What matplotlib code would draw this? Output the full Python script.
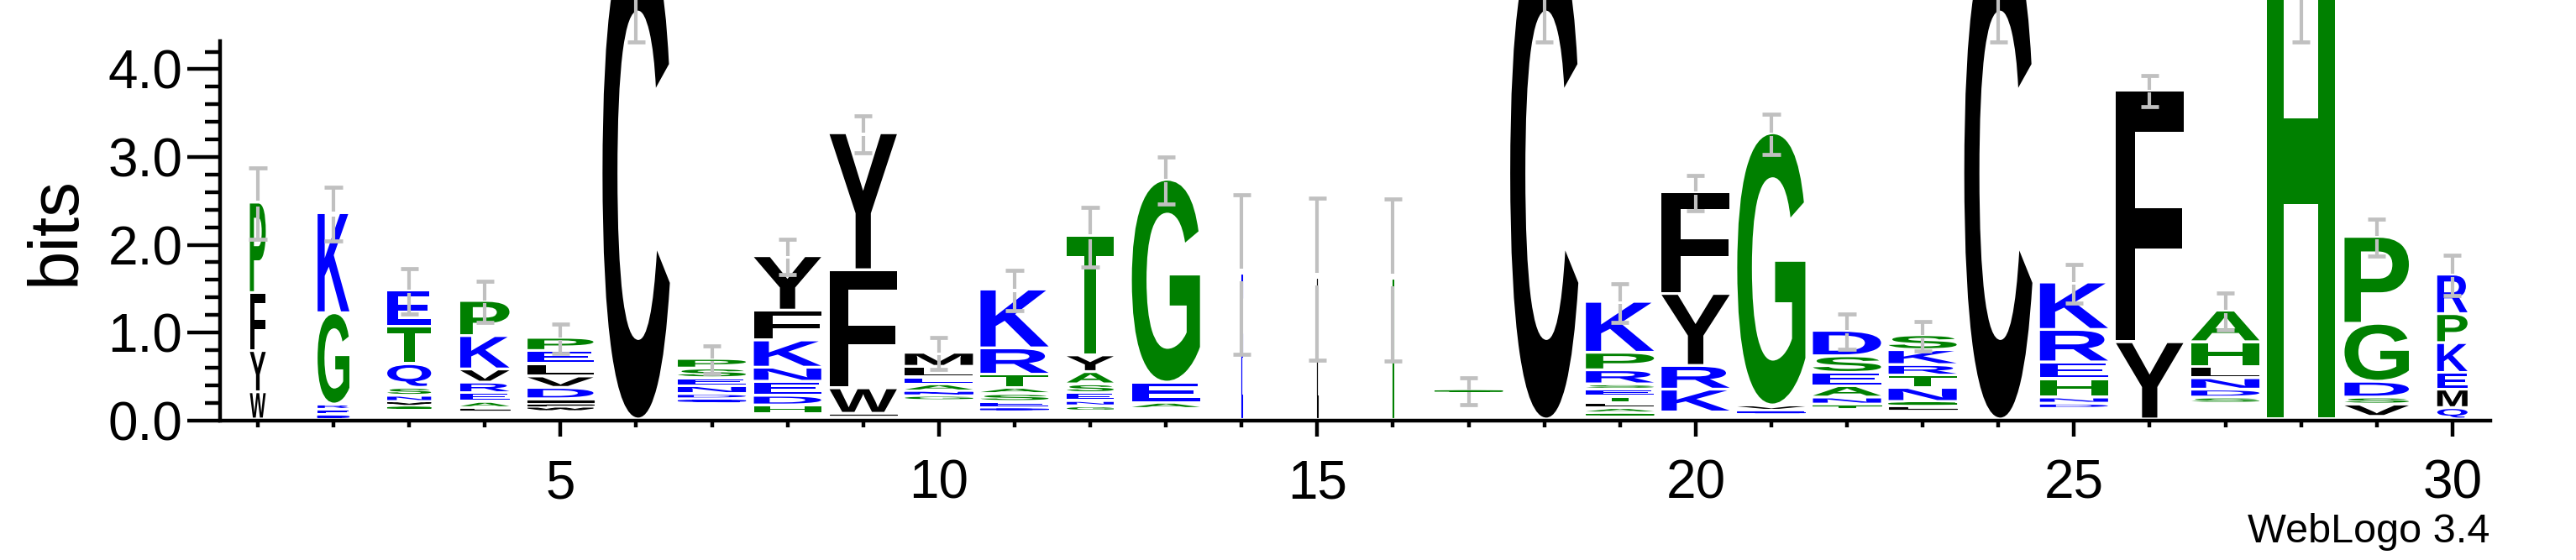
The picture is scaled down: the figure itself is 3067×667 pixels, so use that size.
import matplotlib
matplotlib.use("Agg")
import matplotlib.pyplot as plt
import numpy as np
from matplotlib.textpath import TextPath
from matplotlib.font_manager import FontProperties
from matplotlib.patches import PathPatch
from matplotlib.transforms import Affine2D

plt.rcParams['font.family'] = ['Liberation Sans', 'DejaVu Sans']

# ---------------- data ----------------
positions = list(range(1, 31))

# letters of each stack, bottom -> top ('.' = residues too small to render)
stack_letters = [
    "WYFP",                 # 1
    "DERGK",                # 2
    "....GVNSQTE",          # 3
    "...LAERVKP",           # 4
    "...WFIDVLEP",          # 5
    "C",                    # 6
    "......QDNESP",         # 7
    "..HDENKFY",            # 8
    ".LWFY",                # 9
    ".......GNAELM",        # 10
    "...DESATRK",           # 11
    "...GNESAYT",           # 12
    "....AEG",              # 13
    "E",                    # 14
    "L",                    # 15
    "T",                    # 16
    "..........G",          # 17
    "C",                    # 18
    ".GALTESRPK",           # 19
    "...KRYF",              # 20
    "..EVG",                # 21
    "....TNAESD",           # 22
    "....LGNTRKS",          # 23
    "C",                    # 24
    "....DNHERK",           # 25
    "YF",                   # 26
    "......SDNLHA",         # 27
    "H",                    # 28
    ".VSDGP",               # 29
    "QMEKPR",               # 30
]

stack_heights = [
    [0.31, 0.47, 0.66, 1.03],
    [0.05, 0.06, 0.06, 1.04, 1.14],
    [0.03, 0.03, 0.03, 0.015, 0.045, 0.05, 0.07, 0.09, 0.27, 0.43, 0.41],
    [0.03, 0.03, 0.03, 0.04, 0.07, 0.10, 0.12, 0.15, 0.38, 0.40],
    [0.03, 0.03, 0.03, 0.05, 0.04, 0.05, 0.13, 0.13, 0.14, 0.15, 0.15],
    [5.55],
    [0.03, 0.03, 0.03, 0.03, 0.03, 0.03, 0.05, 0.06, 0.09, 0.09, 0.11, 0.11],
    [0.03, 0.03, 0.10, 0.11, 0.16, 0.16, 0.31, 0.34, 0.62],
    [0.03, 0.035, 0.29, 1.345, 1.56],
    [0.03, 0.03, 0.03, 0.03, 0.03, 0.03, 0.03, 0.06, 0.05, 0.08, 0.08, 0.12, 0.16],
    [0.03, 0.03, 0.03, 0.04, 0.07, 0.09, 0.07, 0.15, 0.30, 0.67],
    [0.03, 0.03, 0.03, 0.06, 0.06, 0.09, 0.10, 0.14, 0.19, 1.36],
    [0.03, 0.03, 0.03, 0.03, 0.07, 0.23, 2.31],
    [1.66],
    [1.61],
    [1.60],
    [0.03, 0.03, 0.03, 0.03, 0.03, 0.03, 0.03, 0.03, 0.03, 0.03, 0.033],
    [5.55],
    [0.03, 0.04, 0.06, 0.06, 0.07, 0.08, 0.06, 0.16, 0.20, 0.58],
    [0.027, 0.027, 0.026, 0.26, 0.27, 0.82, 1.16],
    [0.03, 0.03, 0.04, 0.06, 3.10],
    [0.03, 0.03, 0.03, 0.03, 0.05, 0.08, 0.13, 0.15, 0.19, 0.29],
    [0.03, 0.03, 0.03, 0.01, 0.05, 0.05, 0.16, 0.14, 0.12, 0.17, 0.17],
    [5.55],
    [0.03, 0.03, 0.03, 0.03, 0.06, 0.07, 0.21, 0.19, 0.37, 0.54],
    [0.88, 2.87],
    [0.03, 0.03, 0.03, 0.03, 0.03, 0.03, 0.07, 0.09, 0.13, 0.13, 0.28, 0.36],
    [5.70],
    [0.03, 0.14, 0.08, 0.18, 0.66, 0.99],
    [0.13, 0.21, 0.19, 0.34, 0.33, 0.45],
]

# relative stack widths (fraction of a column)
stack_widths = [0.21, 0.42, 0.58, 0.65, 0.87, 0.89, 0.90, 0.89, 0.89, 0.90,
                0.90, 0.62, 0.90, 0.012, 0.012, 0.012, 0.90, 0.90, 0.90, 0.90,
                0.90, 0.90, 0.90, 0.90, 0.90, 0.89, 0.90, 0.90, 0.85, 0.40]

# error bar half-sizes (bits), centred on stack tops
error_sizes = [0.41, 0.31, 0.26, 0.23, 0.17, 1.24, 0.16, 0.20, 0.21, 0.18,
               0.23, 0.34, 0.27, 0.91, 0.92, 0.92, 0.15, 1.24, 0.22, 0.20,
               0.23, 0.20, 0.17, 1.24, 0.22, 0.18, 0.21, 1.39, 0.21, 0.23]

ytick_values = [0, 1, 2, 3, 4]
ytick_labels = ["0.0", "1.0", "2.0", "3.0", "4.0"]
xtick_values = [5, 10, 15, 20, 25, 30]

color_groups = {"#000000": "CFYWMLVI", "#008000": "GPTSAH", "#0000FF": "KREDQN"}
letter_color = {ch: col for col, chars in color_groups.items() for ch in chars}

# ---------------- figure ----------------
fig = plt.figure(figsize=(30.67, 6.67), dpi=100)
ax = fig.add_axes([0.0854, 0.2493, 0.8813, 0.6776])
ax.set_xlim(0.5, 30.5)
ax.set_ylim(0, np.log2(20))

fp = FontProperties(family="Liberation Sans", weight="bold")
GAP = 0.032
cache = {}

def glyph_path(ch):
    if ch not in cache:
        cache[ch] = TextPath((0, 0), ch, size=1, prop=fp)
    return cache[ch]

tops = []
for x, letters, heights, w in zip(positions, stack_letters, stack_heights, stack_widths):
    y = 0.0
    for ch, h in zip(letters, heights):
        if ch != "." and h > GAP:
            gh = max(h - GAP, 0.006)
            p = glyph_path(ch)
            bb = p.get_extents()
            tr = (Affine2D().translate(-bb.x0, -bb.y0)
                  .scale(w / bb.width, gh / bb.height)
                  .translate(x - w / 2, y + GAP))
            col = letter_color[ch]
            thin = (w < 0.05) or (gh < 0.02)
            patch = PathPatch(tr.transform_path(p), facecolor=col,
                              edgecolor=col if thin else "none",
                              lw=0.8 if thin else 0, clip_on=False, zorder=2)
            ax.add_patch(patch)
        y += h
    tops.append(y)

# error bars: two segments around the stack top, with caps
tops = np.array(tops)
errs = np.array(error_sizes)
gaps = 0.08 * errs
ebc = "#c0c0c0"
xs = np.array(positions, dtype=float)
ax.vlines(xs, tops + gaps, tops + errs, colors=ebc, lw=3.0, zorder=3,
          clip_on=False, capstyle="butt")
ax.vlines(xs, tops - errs, tops - gaps, colors=ebc, lw=3.0, zorder=3,
          clip_on=False, capstyle="butt")
cap_half = 0.118
ax.hlines(tops + errs, xs - cap_half, xs + cap_half, colors=ebc, lw=3.4,
          zorder=3, clip_on=False, capstyle="butt")
ax.hlines(tops - errs, xs - cap_half, xs + cap_half, colors=ebc, lw=3.4,
          zorder=3, clip_on=False, capstyle="butt")

for s in ["top", "right"]:
    ax.spines[s].set_visible(False)
for s in ["left", "bottom"]:
    ax.spines[s].set_linewidth(3.2)

ax.set_yticks(ytick_values)
ax.set_yticklabels(ytick_labels)
ax.set_yticks(np.arange(0, 4.3, 0.2), minor=True)
ax.set_xticks(xtick_values)
ax.set_xticks(positions, minor=True)
ax.tick_params(axis="y", which="major", length=28, width=3.2, labelsize=46, pad=4)
ax.tick_params(axis="y", which="minor", length=13, width=3.2)
ax.tick_params(axis="x", which="major", length=14, width=3.2, labelsize=46, pad=19)
ax.tick_params(axis="x", which="minor", length=6, width=3.2)

ax.set_ylabel("bits", fontsize=60, va="center", ha="center")
ax.yaxis.set_label_coords(-0.0721, 0.5)

fig.text(0.9667, 0.0495, "WebLogo 3.4", ha="right", va="center", fontsize=35)

fig.savefig("out.png", dpi=100)
